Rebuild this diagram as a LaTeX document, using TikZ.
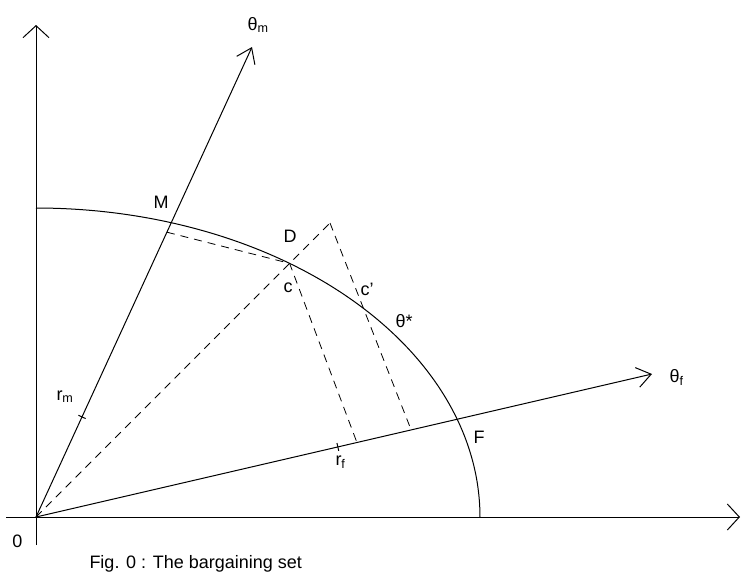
\documentclass[tikz,border=0pt]{standalone}
\usepackage{fontspec}
\setmainfont{Liberation Sans}
\usetikzlibrary{arrows.meta,calc,intersections}

\begin{document}
\begin{tikzpicture}[x=1pt,y=-1pt,line width=1pt,
    axis/.style={-{Straight Barb[length=12pt,width=26pt]}},
    ray/.style={-{Straight Barb[length=14pt,width=20pt]}},
    guide/.style={dash pattern=on 8pt off 6pt,line width=0.8pt},
    lbl/.style={anchor=base west,inner sep=0pt,font=\fontsize{18}{20}\selectfont}]
    \useasboundingbox (0,0) rectangle (741,579);
    % axes and rays
    \coordinate (O) at (36,517);
    \coordinate (ytop) at (36,25);
    \coordinate (ybot) at (36,545);
    \coordinate (xleft) at (6,517);
    \coordinate (xright) at (740,517);
    \coordinate (mtip) at (252,47);
    \coordinate (ftip) at (652,374);
    \coordinate (apex) at (330,223);
    \draw[axis] (xleft) -- (xright);
    \draw[axis] (ybot) -- (ytop);
    \draw[ray,name path=raym] (O) -- (mtip);
    \draw[ray,name path=rayf] (O) -- (ftip);
    % frontier
    \draw[name path=front] plot[domain=90:0,samples=80,smooth] ({36+444*cos(\x)},{517-309*sin(\x)});
    \path[name intersections={of=raym and front,by=M}];
    \path[name intersections={of=rayf and front,by=F}];
    % projections
    \coordinate (pm) at ($(O)!0.606!(mtip)$);
    \coordinate (pf) at ($(O)!0.521!(ftip)$);
    \coordinate (qf) at ($(O)!0.609!(ftip)$);
    \draw[guide,name path=diag] (O) -- (apex);
    \draw[guide,name path=side] (apex) -- (qf);
    \path[name intersections={of=diag and front,by=c}];
    \path[name intersections={of=side and front,by=cp}];
    \draw[guide] (pm) -- (c) -- (pf);
    % ticks
    \coordinate (rm) at ($(O)!0.213!(mtip)$);
    \coordinate (rf) at ($(O)!0.490!(ftip)$);
    \draw ($(rm)!4pt!90:(mtip)$) -- ($(rm)!4pt!-90:(mtip)$);
    \draw ($(rf)!4pt!90:(ftip)$) -- ($(rf)!4pt!-90:(ftip)$);
    % labels
    \node[lbl] (thm) at (247,30) {θ\textsubscript{m}};
    \node[lbl] (thf) at (669,382) {θ\textsubscript{f}};
    \node[lbl] (lM) at (153,208) {M};
    \node[lbl] (lD) at (283,242) {D};
    \node[lbl] (lc) at (283,292) {c};
    \node[lbl] (lcp) at (360,295) {c'};
    \node[lbl] (lth) at (395,327) {θ*};
    \node[lbl] (lF) at (473,443) {F};
    \node[lbl] (lrm) at (56,400) {r\textsubscript{m}};
    \node[lbl] (lrf) at (335,465) {r\textsubscript{f}};
    \node[lbl] (lO) at (12,547) {0};
    \node[lbl] (cap) at (89,568) {Fig. 0 : The bargaining set};
\end{tikzpicture}
\end{document}
